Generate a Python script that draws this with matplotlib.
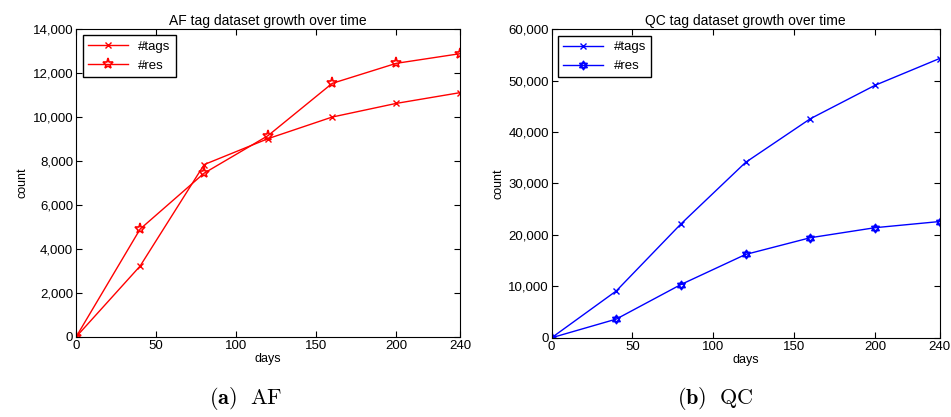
import matplotlib
matplotlib.use("Agg")
import matplotlib.pyplot as plt
from matplotlib.path import Path
from matplotlib.ticker import FuncFormatter

plt.rcParams["font.family"] = ["Liberation Sans", "DejaVu Sans"]
plt.rcParams["mathtext.fontset"] = "cm"

days = [0, 40, 80, 120, 160, 200, 240]
af_tags = [0, 3220, 7830, 9010, 9990, 10610, 11100]
af_res = [0, 4900, 7440, 9150, 11520, 12430, 12870]
qc_tags = [0, 9100, 22130, 34100, 42580, 49080, 54300]
qc_res = [0, 3630, 10350, 16200, 19450, 21400, 22600]

# hexagram marker (two overlapping triangles)
hexagram = Path.make_compound_path(
    Path([(0, 1), (0.866, -0.5), (-0.866, -0.5), (0, 1)], closed=True),
    Path([(0, -1), (0.866, 0.5), (-0.866, 0.5), (0, -1)], closed=True))

fig = plt.figure(figsize=(9.51, 4.17), dpi=100)
ax1 = fig.add_axes([0.080, 0.192, 0.404, 0.739])
ax2 = fig.add_axes([0.580, 0.190, 0.408, 0.740])

fmt = FuncFormatter(lambda v, p: f"{int(v):,}")

ax1.plot(days, af_tags, color="red", lw=1, marker="x", ms=5, mew=1, label="#tags")
ax1.plot(days, af_res, color="red", lw=1, marker="*", ms=8, mew=1.2,
         mfc="none", label="#res")
ax1.set_ylim(0, 14000)
ax1.set_yticks(range(0, 14001, 2000))
ax1.set_title("AF tag dataset growth over time", fontsize=10, pad=3)

ax2.plot(days, qc_tags, color="blue", lw=1, marker="x", ms=5, mew=1, label="#tags")
ax2.plot(days, qc_res, color="blue", lw=1, marker=hexagram, ms=6, mew=1.2,
         mfc="none", label="#res")
ax2.set_ylim(0, 60000)
ax2.set_yticks(range(0, 60001, 10000))
ax2.set_title("QC tag dataset growth over time", fontsize=10, pad=3)

for ax in (ax1, ax2):
    ax.set_xlim(0, 240)
    ax.set_xticks([0, 50, 100, 150, 200, 240])
    ax.yaxis.set_major_formatter(fmt)
    ax.tick_params(direction="in", top=True, right=True, labelsize=9.5, length=4, pad=2)
    ax.set_xlabel("days", fontsize=9, labelpad=1)
    ax.set_ylabel("count", fontsize=9, labelpad=3)
    leg = ax.legend(loc="upper left", fontsize=9.5, fancybox=False, framealpha=1,
                    edgecolor="black", borderaxespad=0.5, handlelength=3)
    leg.get_frame().set_linewidth(1)

fig.text(0.258, 0.03, r"$\mathbf{(a)}\ \ \mathrm{AF}$", ha="center", fontsize=16)
fig.text(0.752, 0.03, r"$\mathbf{(b)}\ \ \mathrm{QC}$", ha="center", fontsize=16)

fig.savefig("out.png", dpi=100)
